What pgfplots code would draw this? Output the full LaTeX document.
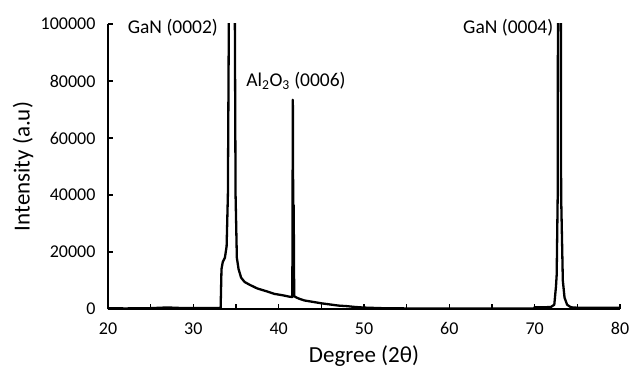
\documentclass[border=0pt]{standalone}
\usepackage{pgfplots}
\pgfplotsset{compat=1.18}
\usepackage{fontspec}
\setmainfont{Carlito}
\pgfplotstableread{
x y
20 300
22 200
25 300
27 550
28 400
30 300
32 300
33.2 400
33.3 14000
33.45 16500
33.7 18000
33.9 22000
34.05 40000
34.25 150000
34.8 150000
34.95 40000
35.1 18000
35.3 14000
35.6 11000
36 9500
36.6 8500
37.5 7200
38.6 6200
39.5 5300
40.5 4800
41.3 4300
41.6 4200
41.66 73400
41.72 20000
41.76 36500
41.82 4500
42.1 4000
42.5 3500
43 3000
44 2500
45 2000
46 1600
47 1200
48 1000
49 700
50 500
52 300
55 200
60 150
65 150
69.9 200
70 600
71 600
71.9 700
72.3 1500
72.5 8000
72.58 12000
72.7 40000
72.75 150000
73.05 150000
73.1 40000
73.3 10000
73.5 4000
73.8 1500
74.2 700
74.5 500
76 400
80 400
}\xrd
\begin{document}
\begin{tikzpicture}
\useasboundingbox (-108pt,-61pt) rectangle (524pt,309pt);
\begin{axis}[
  at={(0,0)}, anchor=south west,
  width=512pt, height=285pt, scale only axis,
  xmin=20, xmax=80, ymin=0, ymax=100000,
  enlargelimits=false,
  axis x line=bottom, axis y line=left,
  axis line style={line width=1.6pt, -},
  xtick={20,30,...,80},
  minor xtick={25,35,...,75},
  ytick={0,20000,...,100000},
  tick align=inside,
  major tick length=5pt, minor tick length=5pt,
  every tick/.style={black, line width=1.1pt},
  scaled y ticks=false,
  yticklabel style={/pgf/number format/fixed, /pgf/number format/set thousands separator={}, xshift=-9pt},
  xticklabel style={yshift=-10pt},
  /pgf/number format/assume math mode=true,
  ticklabel style={font=\fontsize{18}{21}\selectfont},
  label style={font=\fontsize{23}{27}\selectfont},
  xlabel={Degree (2θ)},
  ylabel={Intensity (a.u)},
  xlabel style={at={(axis description cs:0.5,-0.166)}, anchor=center},
  ylabel style={at={(axis description cs:-0.166,0.5)}, anchor=center},
  clip mode=individual,
]
\addplot[black, line width=2.3pt, line join=round] table[x=x,y=y]{\xrd};
\node[font=\fontsize{19.5}{23}\selectfont] at (axis cs:27.6,98600) {GaN (0002)};
\node[font=\fontsize{19.5}{23}\selectfont] at (axis cs:42.03,80000) {Al\textsubscript{2}O\textsubscript{3} (0006)};
\node[font=\fontsize{19.5}{23}\selectfont] at (axis cs:66.9,98600) {GaN (0004)};
\end{axis}
\end{tikzpicture}
\end{document}
